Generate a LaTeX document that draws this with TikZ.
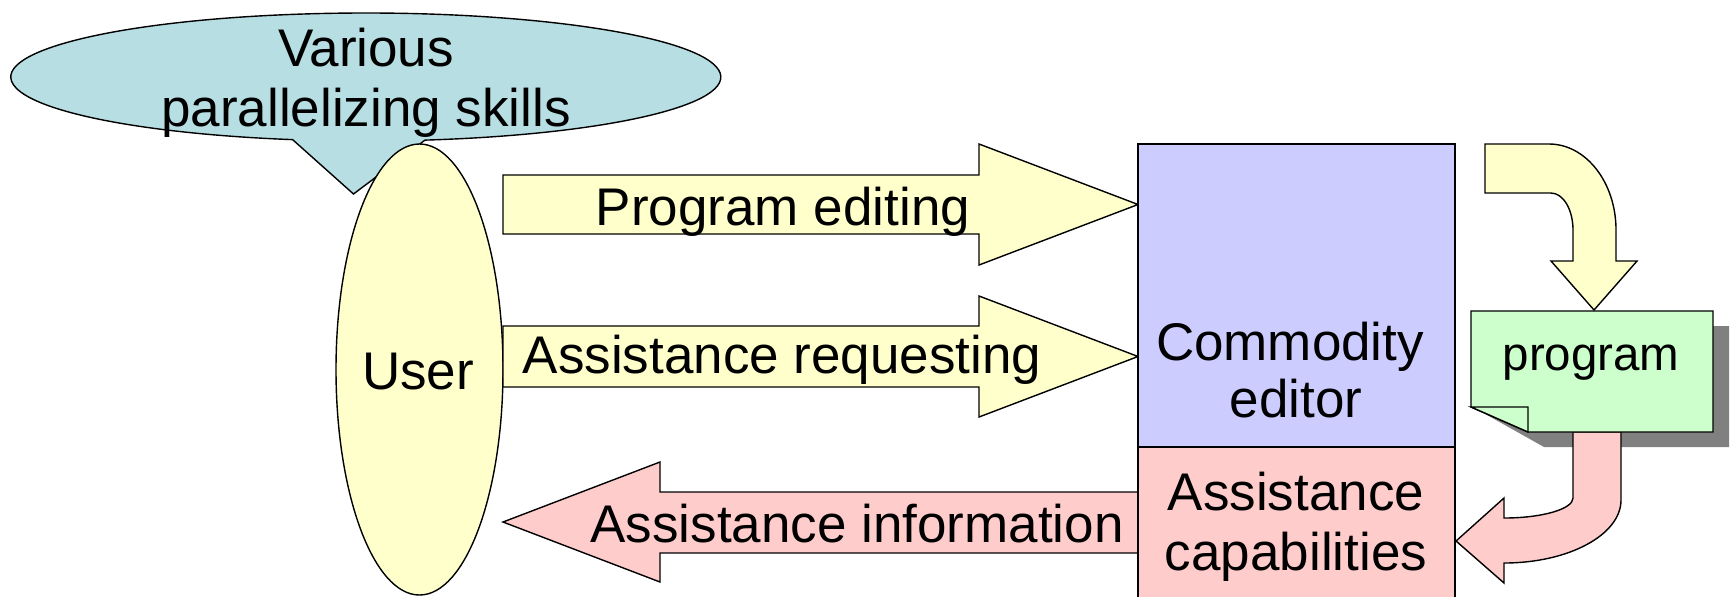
\documentclass[tikz,border=0pt]{standalone}
\usepackage{fontspec}
\setmainfont{Liberation Sans}
\definecolor{callc}{RGB}{183,222,226}
\definecolor{yel}{RGB}{255,255,204}
\definecolor{lav}{RGB}{204,204,255}
\definecolor{pnk}{RGB}{255,204,204}
\definecolor{grn}{RGB}{204,255,204}
\definecolor{shd}{RGB}{128,128,128}
\begin{document}
\begin{tikzpicture}[x=0.5pt,y=-0.5pt,
  outl/.style={draw=black,line width=0.7pt,line join=miter},
  lbl/.style={font=\fontsize{26.5}{30}\selectfont,inner sep=0pt,anchor=base},
  smalllbl/.style={font=\fontsize{23.75}{28}\selectfont,inner sep=0pt,anchor=base}]
\useasboundingbox (0,0) rectangle (1732,596);
% callout
\coordinate (tip) at (353.5,194);
\coordinate (rbase) at (425,140.1);
\draw[outl,fill=callc] (tip) -- (rbase) arc[start angle=80.4,end angle=-258.1,x radius=355,y radius=64] -- cycle;
% user
\coordinate (userc) at (419.5,369.5);
\draw[outl,fill=yel] (userc) ellipse[x radius=83.5,y radius=225.5];
% block arrows
\draw[outl,fill=yel] (503,175) -- (979,175) -- (979,144) -- (1138,204.5) -- (979,265) -- (979,234) -- (503,234) -- cycle;
\draw[outl,fill=yel] (503,326) -- (979,326) -- (979,296) -- (1138,356.5) -- (979,417) -- (979,387) -- (503,387) -- cycle;
\draw[outl,fill=pnk] (1138,492) -- (660,492) -- (660,462) -- (503,522) -- (660,582) -- (660,553) -- (1138,553);
% editor boxes
\draw[outl,fill=lav] (1138,144) rectangle (1455,447);
\draw[outl,fill=pnk] (1138,447) rectangle (1455,620);
% yellow curved arrow
\draw[outl,fill=yel] (1485,144) -- (1549,144) arc[start angle=-90,end angle=0,x radius=67,y radius=86] -- (1616,261) -- (1637,261) -- (1594,310) -- (1551,261) -- (1573,261) -- (1573,230) arc[start angle=0,end angle=-90,x radius=22,y radius=37] -- (1485,193) -- cycle;
% document shadow
\fill[shd] (1487,326) -- (1729,326) -- (1729,447) -- (1544,447) -- (1487,415) -- cycle;
% pink curved arrow
\draw[outl,fill=pnk] (1573,432) -- (1573,498) arc[start angle=0,end angle=90,x radius=69,y radius=20] -- (1504,498) -- (1456,541) -- (1504,583) -- (1504,563) arc[start angle=90,end angle=0,x radius=117,y radius=63] -- (1621,432) -- cycle;
% document
\draw[outl,fill=grn] (1471,311) -- (1713,311) -- (1713,432) -- (1528,432) -- (1471,407) -- cycle;
\draw[outl,fill=grn] (1471,407) -- (1528,407) -- (1528,432) -- cycle;
% texts
\node[lbl] (various) at (366,66) {Various};
\node[lbl] (skills) at (366,126) {parallelizing skills};
\node[lbl] (pe) at (783,225) {Program editing};
\node[lbl] (ar) at (782,373) {Assistance requesting};
\node[lbl] (user) at (418,389) {User};
\node[lbl] (ai) at (857,542) {Assistance information};
\node[lbl] (ce1) at (1290,360) {Commodity};
\node[lbl] (ce2) at (1296,417) {editor};
\node[lbl] (ac1) at (1296,510) {Assistance};
\node[lbl] (ac2) at (1296,570) {capabilities};
\node[smalllbl] (prog) at (1591,370) {program};
\end{tikzpicture}
\end{document}
